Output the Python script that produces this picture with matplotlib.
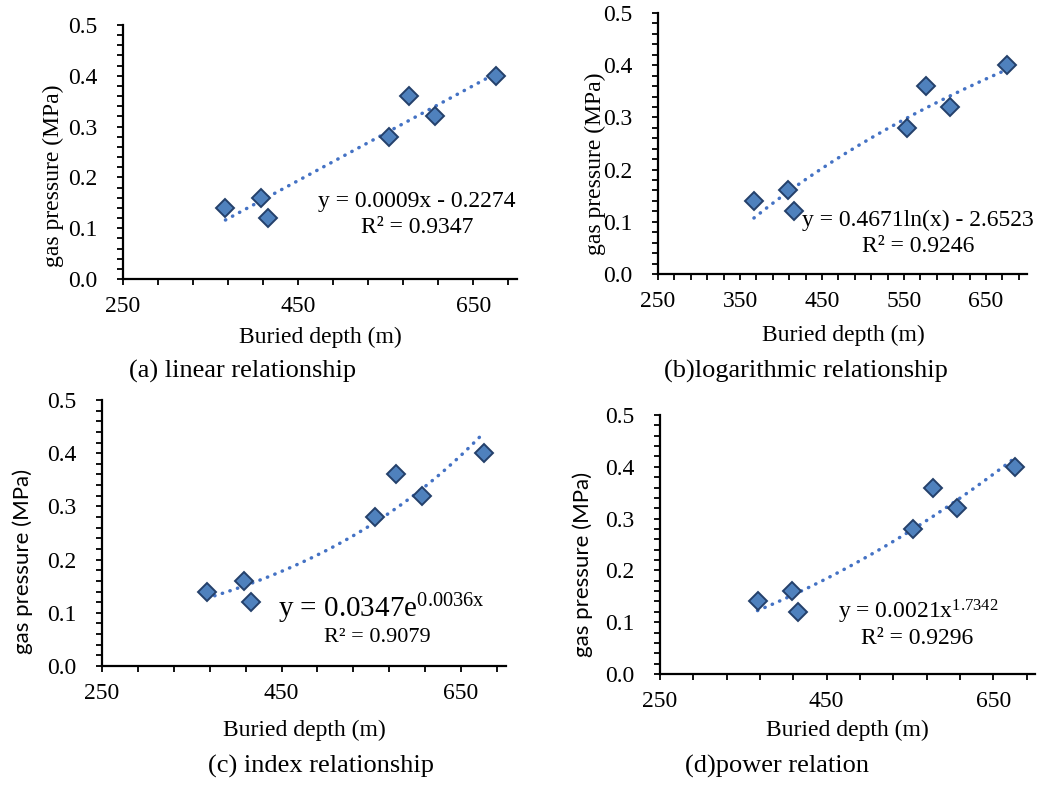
import matplotlib
matplotlib.use('Agg')
import matplotlib.pyplot as plt
import numpy as np

plt.rcParams['font.family'] = ['Liberation Serif', 'DejaVu Serif']
plt.rcParams['mathtext.fontset'] = 'custom'
plt.rcParams['mathtext.rm'] = 'Liberation Serif'
plt.rcParams['mathtext.default'] = 'regular'

# data
depth = [367, 408, 416, 554, 577, 606, 676]
pressure = [0.14, 0.16, 0.12, 0.28, 0.36, 0.32, 0.40]

eq_texts = ['y = 0.0009x - 0.2274',
            'y = 0.4671ln(x) - 2.6523',
            'y = 0.0347e$^{0.0036x}$',
            'y = 0.0021x$^{1.7342}$']
r2_texts = ['R² = 0.9347', 'R² = 0.9246', 'R² = 0.9079', 'R² = 0.9296']
captions = ['(a) linear relationship', '(b)logarithmic relationship',
            '(c) index relationship', '(d)power relation']

W, H = 1047, 785
fig = plt.figure(figsize=(W / 100, H / 100), dpi=100)

def px_axes(l, t, r, b):
    return fig.add_axes([l / W, 1 - b / H, (r - l) / W, (b - t) / H])

# axes boxes in pixels (left, top, right, bottom)
boxes = [(123, 25, 517, 279), (658, 13, 1027, 274),
         (102, 400, 506, 666), (660, 415, 1035, 674)]
ylab_pos = [(53, 176), (595, 164), (23, 561), (583, 564)]
xlab_pos = [(320, 337), (843, 335), (304, 730), (847, 730)]
cap_pos = [(243, 371), (806, 371), (321, 766), (777, 766)]

x = np.array(depth, dtype=float)
y = np.array(pressure)
xs = np.linspace(x.min(), x.max(), 200)

# trendlines fitted from the data
a, b = np.polyfit(x, y, 1)
fit_lin = a * xs + b
a, b = np.polyfit(np.log(x), y, 1)
fit_log = a * np.log(xs) + b
a, b = np.polyfit(x, np.log(y), 1)
fit_exp = np.exp(b) * np.exp(a * xs)
a, b = np.polyfit(np.log(x), np.log(y), 1)
fit_pow = np.exp(b) * xs ** a
fits = [fit_lin, fit_log, fit_exp, fit_pow]

for i in range(4):
    ax = px_axes(*boxes[i])
    ax.plot(xs, fits[i], color='#4472C4', lw=2.5,
            linestyle=(0, (0.1, 2.2)), dash_capstyle='round', zorder=2)
    ax.plot(x, y, 'D', ms=8.7, mfc='#4F81BD', mec='#24406b', mew=1.4,
            linestyle='none', zorder=3)
    ax.set_xlim(250, 700)
    ax.set_ylim(0, 0.5)
    if i == 1:
        ax.set_xticks(np.arange(250, 651, 100))
        ax.set_xticks(np.arange(250, 701, 20), minor=True)
    else:
        ax.set_xticks(np.arange(250, 651, 200))
        ax.set_xticks(np.arange(250, 701, 40), minor=True)
    ax.set_yticks(np.arange(0, 0.51, 0.1))
    ax.set_yticks(np.arange(0, 0.51, 0.02), minor=True)
    ax.set_yticklabels([f'{v:.1f}' for v in np.arange(0, 0.51, 0.1)])
    for s in ['top', 'right']:
        ax.spines[s].set_visible(False)
    for s in ['left', 'bottom']:
        ax.spines[s].set_linewidth(1.6)
    ax.tick_params(which='both', direction='out', length=4.5, width=1.3)
    ax.tick_params(axis='y', which='major', pad=14, labelsize=17)
    ax.tick_params(axis='x', which='major', pad=8, labelsize=17)
    ax.patch.set_alpha(0)

    if i < 2:
        ylabel_font, ylabel_size = 'Liberation Serif', 17
    else:
        ylabel_font, ylabel_size = 'Lato', 16
    lx, ly = ylab_pos[i]
    fig.text(lx / W, 1 - ly / H, 'gas pressure (MPa)', rotation=90,
             ha='center', va='center', fontsize=ylabel_size,
             family=ylabel_font)
    lx, ly = xlab_pos[i]
    fig.text(lx / W, 1 - ly / H, 'Buried depth (m)', ha='center',
             va='center', fontsize=17)
    lx, ly = cap_pos[i]
    fig.text(lx / W, 1 - ly / H, captions[i], ha='center', va='center',
             fontsize=19)

axs = fig.axes
axs[0].text(586, 0.152, eq_texts[0], ha='center', va='center', fontsize=17)
axs[0].text(586, 0.102, r2_texts[0], ha='center', va='center', fontsize=17)
axs[1].text(567, 0.103, eq_texts[1], ha='center', va='center', fontsize=17)
axs[1].text(567, 0.052, r2_texts[1], ha='center', va='center', fontsize=17)
axs[2].text(446, 0.107, eq_texts[2], ha='left', va='center', fontsize=21)
axs[2].text(557, 0.053, r2_texts[2], ha='center', va='center', fontsize=16)
axs[3].text(464, 0.120, eq_texts[3], ha='left', va='center', fontsize=17)
axs[3].text(559, 0.069, r2_texts[3], ha='center', va='center', fontsize=17)

fig.savefig('out.png', dpi=100)
